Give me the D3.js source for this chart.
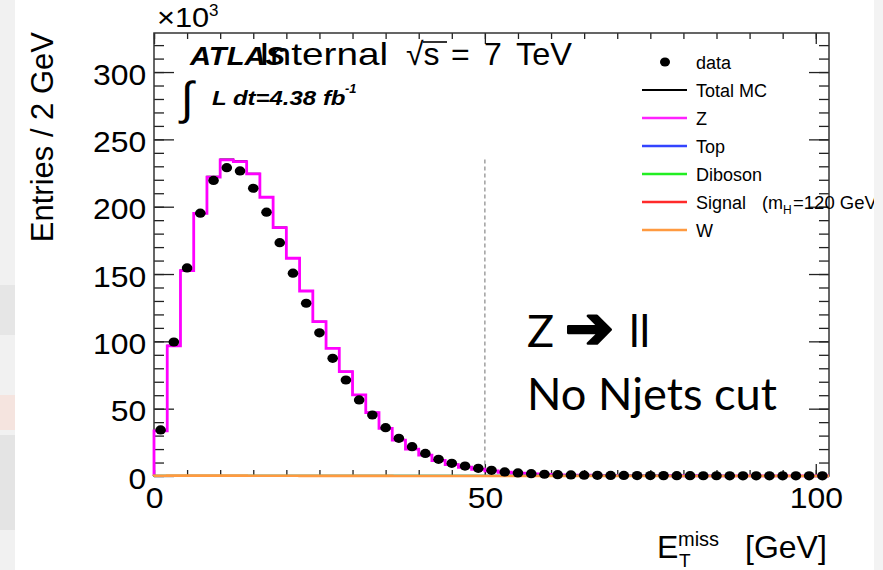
<!DOCTYPE html>
<html>
<head>
<meta charset="utf-8">
<script src="https://cdn.jsdelivr.net/npm/d3@7"></script>
<style>
  body { margin: 0; background: #fff; }
  svg text { font-family: "Liberation Sans", Arial, Helvetica, sans-serif; fill: #000; }
  svg text.slide { font-family: Lato, "Open Sans", sans-serif; }
  svg tspan.dingbat { font-family: "DejaVu Sans", sans-serif; font-weight: bold; stroke: #000; stroke-width: 2.6px; stroke-linejoin: round; }
</style>
</head>
<body>
<div id="chart"></div>
<script>
// Bin centres (GeV), 2 GeV bins from 0 to 102
var binCentres = [1, 3, 5, 7, 9, 11, 13, 15, 17, 19,
  21, 23, 25, 27, 29, 31, 33, 35, 37, 39,
  41, 43, 45, 47, 49, 51, 53, 55, 57, 59,
  61, 63, 65, 67, 69, 71, 73, 75, 77, 79,
  81, 83, 85, 87, 89, 91, 93, 95, 97, 99, 101];

// entries per bin, x10^3
var dataVals = [34.2, 99.5, 154.5, 195.2, 219.5, 229.0, 226.6, 213.7, 195.9, 173.3,
  150.6, 128.3, 106.3, 87.4, 71.3, 56.5, 45.3, 35.9, 28.0, 21.8,
  16.8, 12.4, 9.4, 7.4, 5.7, 4.2, 3.0, 2.3, 1.7, 1.3,
  1.0, 0.8, 0.6, 0.5, 0.45, 0.4, 0.35, 0.3, 0.28, 0.25,
  0.22, 0.2, 0.18, 0.16, 0.15, 0.14, 0.13, 0.12, 0.11, 0.1, 0.1];

var zVals = [33.5, 96.6, 152.5, 195.0, 222.0, 234.8, 233.5, 224.4, 207.0, 184.5,
  161.7, 137.4, 114.6, 94.8, 77.5, 60.2, 47.0, 35.4, 26.7, 20.0,
  15.5, 11.5, 8.5, 6.5, 5.0, 3.8, 2.8, 2.1, 1.6, 1.2,
  0.9, 0.7, 0.55, 0.45, 0.4, 0.35, 0.3, 0.26, 0.23, 0.2,
  0.18, 0.16, 0.14, 0.13, 0.12, 0.11, 0.1, 0.09, 0.08, 0.08, 0.07];

var topVals = [0.02, 0.04, 0.06, 0.08, 0.1, 0.11, 0.12, 0.12, 0.12, 0.12,
  0.12, 0.11, 0.11, 0.1, 0.1, 0.09, 0.09, 0.08, 0.08, 0.07,
  0.07, 0.06, 0.06, 0.06, 0.05, 0.05, 0.05, 0.04, 0.04, 0.04,
  0.04, 0.03, 0.03, 0.03, 0.03, 0.03, 0.02, 0.02, 0.02, 0.02,
  0.02, 0.02, 0.02, 0.01, 0.01, 0.01, 0.01, 0.01, 0.01, 0.01, 0.01];

var dibosonVals = [0.05, 0.08, 0.1, 0.12, 0.12, 0.12, 0.11, 0.11, 0.1, 0.1,
  0.09, 0.09, 0.08, 0.08, 0.07, 0.07, 0.06, 0.06, 0.06, 0.05,
  0.05, 0.05, 0.04, 0.04, 0.04, 0.04, 0.03, 0.03, 0.03, 0.03,
  0.03, 0.02, 0.02, 0.02, 0.02, 0.02, 0.02, 0.02, 0.01, 0.01,
  0.01, 0.01, 0.01, 0.01, 0.01, 0.01, 0.01, 0.01, 0.01, 0.01, 0.01];

var signalVals = [0.001, 0.002, 0.003, 0.004, 0.004, 0.005, 0.005, 0.005, 0.005, 0.005,
  0.005, 0.005, 0.005, 0.005, 0.005, 0.004, 0.004, 0.004, 0.004, 0.004,
  0.004, 0.004, 0.003, 0.003, 0.003, 0.003, 0.003, 0.003, 0.003, 0.003,
  0.002, 0.002, 0.002, 0.002, 0.002, 0.002, 0.002, 0.002, 0.002, 0.002,
  0.001, 0.001, 0.001, 0.001, 0.001, 0.001, 0.001, 0.001, 0.001, 0.001, 0.001];

var wVals = [0.2, 0.3, 0.3, 0.3, 0.3, 0.25, 0.25, 0.2, 0.2, 0.15,
  0.15, 0.12, 0.1, 0.1, 0.09, 0.08, 0.07, 0.06, 0.05, 0.05,
  0.05, 0.04, 0.04, 0.04, 0.03, 0.03, 0.03, 0.03, 0.03, 0.02,
  0.02, 0.02, 0.02, 0.02, 0.02, 0.02, 0.02, 0.01, 0.01, 0.01,
  0.01, 0.01, 0.01, 0.01, 0.01, 0.01, 0.01, 0.01, 0.01, 0.01, 0.01];

var binWidth = 2;
var yMajorTicks = [0, 50, 100, 150, 200, 250, 300];
var xMajorTicks = [0, 50, 100];
var cutValue = 50;

var legendLabels = ["data", "Total MC", "Z", "Top", "Diboson", "Signal", "W"];
var legendColours = ["#000", "#000", "#ff22ff", "#3344ff", "#22ee22", "#ff2a2a", "#ff9a40"];

var width = 883, height = 570;
var margin = {top: 33, right: 54, bottom: 94, left: 154},
  plotW = width - margin.left - margin.right,
  plotH = height - margin.top - margin.bottom;

var svg = d3.select("#chart")
  .append("svg")
  .attr("width", width)
  .attr("height", height);

// slide background strip on the left
svg.append("rect").attr("x", 0).attr("y", 0).attr("width", 15).attr("height", height).attr("fill", "#f1f1f1");
svg.append("rect").attr("x", 0).attr("y", 285).attr("width", 15).attr("height", 50).attr("fill", "#e6e6e6");
svg.append("rect").attr("x", 0).attr("y", 395).attr("width", 15).attr("height", 35).attr("fill", "#f5e4df");
svg.append("rect").attr("x", 0).attr("y", 435).attr("width", 15).attr("height", 95).attr("fill", "#e4e4e4");

var x = d3.scaleLinear().domain([0, 102]).range([0, plotW]);
var y = d3.scaleLinear().domain([0, 329]).range([plotH, 0]);

var g = svg.append("g")
  .attr("transform", "translate(" + margin.left + "," + margin.top + ")");

// axes (ticks inward, ROOT style)
function styleAxis(sel) {
  sel.select(".domain").remove();
  sel.selectAll(".tick line").attr("stroke", "#222").attr("stroke-width", 1.3);
}

g.append("g").call(d3.axisLeft(y).tickValues(d3.range(0, 330, 10)).tickSize(-10).tickFormat("")).call(styleAxis);
g.append("g").call(d3.axisLeft(y).tickValues(yMajorTicks).tickSize(-20).tickPadding(7))
  .call(styleAxis)
  .selectAll("text")
  .attr("font-size", 29)
  .attr("transform", "scale(1.1,1)")
  .attr("dy", "0.42em");

g.append("g").attr("transform", "translate(" + plotW + ",0)")
  .call(d3.axisRight(y).tickValues(d3.range(0, 330, 10)).tickSize(-10).tickFormat("")).call(styleAxis);
g.append("g").attr("transform", "translate(" + plotW + ",0)")
  .call(d3.axisRight(y).tickValues(yMajorTicks).tickSize(-20).tickFormat("")).call(styleAxis);

g.append("g").attr("transform", "translate(0," + plotH + ")")
  .call(d3.axisBottom(x).tickValues(d3.range(0, 102, 5)).tickSize(-6).tickFormat("")).call(styleAxis);
g.append("g").attr("transform", "translate(0," + plotH + ")")
  .call(d3.axisBottom(x).tickValues(xMajorTicks).tickSize(-12).tickPadding(11))
  .call(styleAxis)
  .selectAll("text")
  .attr("font-size", 29)
  .attr("transform", "scale(1.1,1)");

g.append("g")
  .call(d3.axisTop(x).tickValues(d3.range(0, 102, 5)).tickSize(-6).tickFormat("")).call(styleAxis);
g.append("g")
  .call(d3.axisTop(x).tickValues(xMajorTicks).tickSize(-11).tickFormat("")).call(styleAxis);

g.append("rect")
  .attr("width", plotW)
  .attr("height", plotH)
  .attr("fill", "none")
  .attr("stroke", "#333")
  .attr("stroke-width", 1.5);

// cut line
g.append("line")
  .attr("x1", x(cutValue)).attr("x2", x(cutValue))
  .attr("y1", y(235)).attr("y2", y(0))
  .attr("stroke", "#888")
  .attr("stroke-width", 1.2)
  .attr("stroke-dasharray", "4,3");

// step histograms
function stepPoints(vals) {
  var pts = [[0, 0]];
  vals.forEach(function(v, i) {
    var lo = binCentres[i] - binWidth / 2;
    pts.push([lo, v]);
    pts.push([lo + binWidth, v]);
  });
  return pts;
}

var line = d3.line()
  .x(function(d) { return x(d[0]); })
  .y(function(d) { return y(d[1]); });

var totalVals = zVals.map(function(v, i) {
  return v + topVals[i] + dibosonVals[i] + signalVals[i] + wVals[i];
});

var hists = [
  {vals: totalVals, colour: legendColours[1], w: 1.2},
  {vals: zVals, colour: "#ff00ff", w: 2.8},
  {vals: topVals, colour: legendColours[3], w: 2.2},
  {vals: dibosonVals, colour: legendColours[4], w: 2.2},
  {vals: signalVals, colour: legendColours[5], w: 2.2},
  {vals: wVals, colour: legendColours[6], w: 2.6}
];

g.selectAll(".hist")
  .data(hists)
  .enter().append("path")
  .attr("class", "hist")
  .attr("d", function(d) { return line(stepPoints(d.vals)); })
  .attr("fill", "none")
  .attr("stroke", function(d) { return d.colour; })
  .attr("stroke-width", function(d) { return d.w; });

// data points
g.selectAll(".pt")
  .data(dataVals)
  .enter().append("ellipse")
  .attr("class", "pt")
  .attr("cx", function(d, i) { return x(binCentres[i]); })
  .attr("cy", function(d) { return y(d); })
  .attr("rx", 5.3)
  .attr("ry", 4.6)
  .attr("fill", "#000");

// x10^3
svg.append("text").attr("transform", "translate(157,27) scale(1.1,1)").attr("font-size", 28).text("\u00d710");
svg.append("text").attr("x", 209).attr("y", 16).attr("font-size", 17).text("3");

// y title
svg.append("text")
  .attr("transform", "translate(53,32) rotate(-90)")
  .attr("text-anchor", "end")
  .attr("font-size", 31)
  .text("Entries / 2 GeV");

// x title
svg.append("text").attr("x", 657).attr("y", 558).attr("font-size", 32).text("E");
svg.append("text").attr("x", 679).attr("y", 567).attr("font-size", 19).text("T");
svg.append("text").attr("x", 678).attr("y", 546).attr("font-size", 20).text("miss");
svg.append("text").attr("x", 745).attr("y", 558).attr("font-size", 32).text("[GeV]");

// ATLAS Internal
svg.append("text")
  .attr("transform", "translate(190,65) scale(1.12,1)")
  .attr("font-size", 26)
  .attr("font-weight", "bold")
  .attr("font-style", "italic")
  .text("ATLAS");
svg.append("text")
  .attr("transform", "translate(259,65) scale(1.21,1)")
  .attr("font-size", 32)
  .text("Internal");
svg.append("text").attr("y", 65).attr("font-size", 32)
  .call(function(t) {
    t.append("tspan").attr("x", 406).text("\u221as");
    t.append("tspan").attr("x", 451).text("=");
    t.append("tspan").attr("x", 484).text("7");
    t.append("tspan").attr("x", 516).attr("textLength", 56).attr("lengthAdjust", "spacingAndGlyphs").text("TeV");
  });
svg.append("line").attr("x1", 423).attr("x2", 447).attr("y1", 42).attr("y2", 42)
  .attr("stroke", "#000").attr("stroke-width", 1.6);

// luminosity
svg.append("text").attr("x", 181).attr("y", 114).attr("font-size", 46).text("\u222b");
svg.append("text")
  .attr("transform", "translate(212,105) scale(1.2,1)")
  .attr("font-size", 20)
  .attr("font-weight", "bold")
  .attr("font-style", "italic")
  .text("L dt=4.38 fb");
svg.append("text").attr("x", 345).attr("y", 93).attr("font-size", 13)
  .attr("font-weight", "bold").attr("font-style", "italic").text("-1");

// legend
var leg = svg.append("g").attr("transform", "translate(0,62)");
var rows = leg.selectAll(".leg")
  .data(legendLabels)
  .enter().append("g")
  .attr("class", "leg")
  .attr("transform", function(d, i) { return "translate(0," + (i * 28) + ")"; });

rows.each(function(d, i) {
  var r = d3.select(this);
  if (i === 0) {
    r.append("ellipse").attr("cx", 665).attr("cy", 0).attr("rx", 5).attr("ry", 4.5).attr("fill", "#000");
  } else {
    r.append("line").attr("x1", 642).attr("x2", 687).attr("y1", 0).attr("y2", 0)
      .attr("stroke", legendColours[i]).attr("stroke-width", i === 1 ? 2 : 2.4);
  }
  var t = r.append("text").attr("x", 696).attr("y", 6.5).attr("font-size", 18);
  if (d === "Signal") {
    t.append("tspan").text("Signal");
    t.append("tspan").attr("x", 762).text("(m");
    t.append("tspan").attr("font-size", 12).attr("dy", 5).text("H");
    t.append("tspan").attr("x", 793).attr("dy", -5).attr("font-size", 18.5).text("=120 GeV)");
  } else {
    t.text(d);
  }
});

// slide annotation
svg.append("text")
  .attr("class", "slide")
  .attr("y", 347)
  .attr("font-size", 45)
  .call(function(t) {
    t.append("tspan").attr("x", 527).text("Z");
    t.append("tspan").attr("class", "dingbat").attr("x", 565).attr("dy", 1).attr("font-size", 58).text("\u2794");
    t.append("tspan").attr("x", 629).attr("dy", -1).text("ll");
  });
svg.append("text")
  .attr("class", "slide")
  .attr("x", 527).attr("y", 410)
  .attr("font-size", 45)
  .attr("textLength", 250)
  .attr("lengthAdjust", "spacingAndGlyphs")
  .text("No Njets cut");

// right slide edge (clips legend text)
svg.append("rect").attr("x", 874).attr("y", 0).attr("width", 9).attr("height", height).attr("fill", "#f3f3f3");
</script>
</body>
</html>
